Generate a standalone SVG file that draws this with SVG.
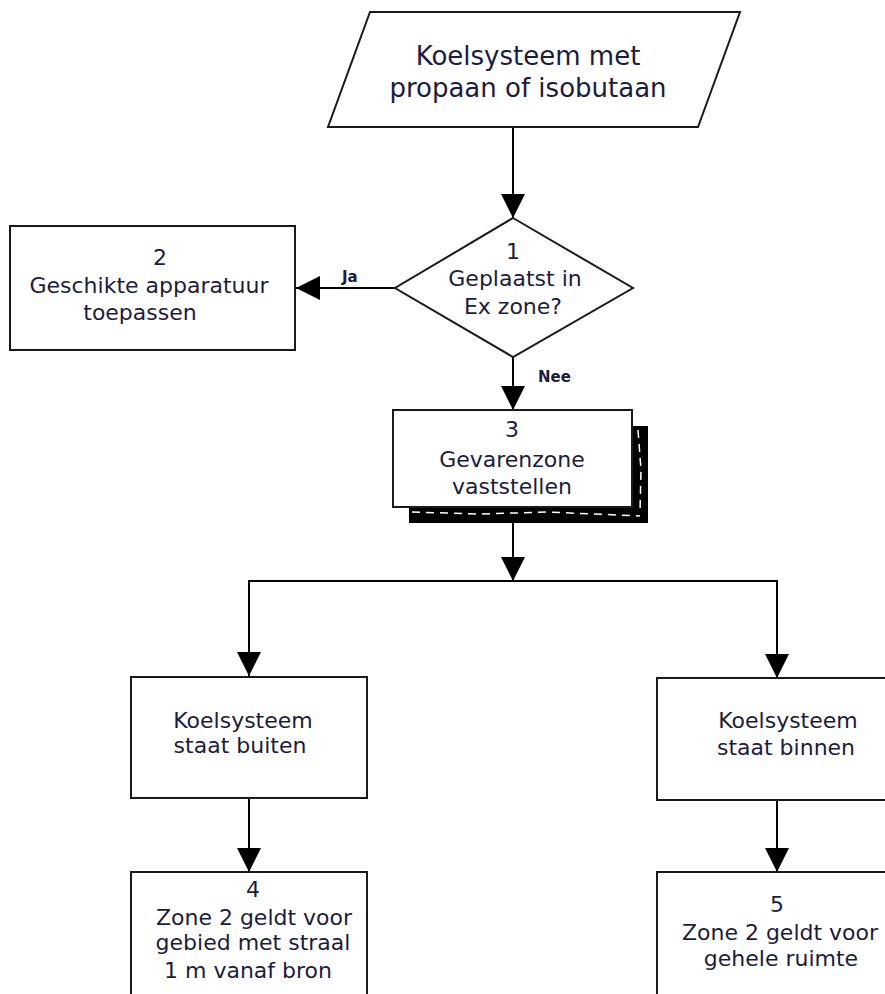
<svg xmlns="http://www.w3.org/2000/svg" width="885" height="994" viewBox="0 0 885 994">
<style>
.shape{fill:#fff;stroke:#1a1a1a;stroke-width:2}
.t{font-family:"DejaVu Sans","Verdana",sans-serif;font-size:22px;fill:#1c1c3c;text-anchor:middle}
.big{font-size:26px}
.lbl{font-family:"DejaVu Sans","Verdana",sans-serif;font-size:15px;font-weight:bold;fill:#1c1c3c}
.ln{fill:none;stroke:#000;stroke-width:2}
</style>
<defs>
<marker id="ah" markerUnits="userSpaceOnUse" markerWidth="24" markerHeight="24" viewBox="0 0 22 22" refX="22" refY="11" orient="auto">
<path d="M0,0 L22,11 L0,22 Z" fill="#000"/>
</marker>
</defs>
<rect width="885" height="994" fill="#fff"/>
<g id="connectors">
<line class="ln" x1="513" y1="127" x2="513" y2="218" marker-end="url(#ah)"/>
<line class="ln" x1="395" y1="288" x2="296" y2="288" marker-end="url(#ah)"/>
<line class="ln" x1="513" y1="357" x2="513" y2="410" marker-end="url(#ah)"/>
<line class="ln" x1="513" y1="507" x2="513" y2="581" marker-end="url(#ah)"/>
<polyline class="ln" points="249,676 249,581 777,581 777,678" marker-start="none"/>
<line class="ln" x1="249" y1="640" x2="249" y2="676" marker-end="url(#ah)"/>
<line class="ln" x1="777" y1="640" x2="777" y2="678" marker-end="url(#ah)"/>
<line class="ln" x1="249" y1="798" x2="249" y2="872" marker-end="url(#ah)"/>
<line class="ln" x1="777" y1="800" x2="777" y2="872" marker-end="url(#ah)"/>
<text class="lbl" x="342" y="282">Ja</text>
<text class="lbl" x="538" y="382">Nee</text>
</g>
<g id="start">
<polygon class="shape" points="370,12 740,12 698,127 328,127"/>
<text class="t big" x="528" y="65">Koelsysteem met</text>
<text class="t big" x="528" y="97">propaan of isobutaan</text>
</g>
<g id="node1">
<polygon class="shape" points="513,218 633,288 513,357 395,288"/>
<text class="t" x="513" y="259">1</text>
<text class="t" x="515" y="286">Geplaatst in</text>
<text class="t" x="513" y="314">Ex zone?</text>
</g>
<g id="node2">
<rect class="shape" x="10" y="226" width="285" height="124"/>
<text class="t" x="160" y="265">2</text>
<text class="t" x="149" y="293">Geschikte apparatuur</text>
<text class="t" x="140" y="320">toepassen</text>
</g>
<g id="node3">
<rect x="409" y="426" width="239" height="97" fill="#000"/>
<polyline points="412,512 480,514 548,512 640,516" fill="none" stroke="#fff" stroke-width="1.5" stroke-dasharray="8,6"/>
<polyline points="638,430 641,470 640,512" fill="none" stroke="#fff" stroke-width="1.5" stroke-dasharray="8,6"/>
<rect class="shape" x="393" y="410" width="239" height="97"/>
<text class="t" x="512" y="437">3</text>
<text class="t" x="512" y="467">Gevarenzone</text>
<text class="t" x="512" y="494">vaststellen</text>
</g>
<g id="outside">
<rect class="shape" x="131" y="677" width="236" height="121"/>
<text class="t" x="243" y="728">Koelsysteem</text>
<text class="t" x="240" y="753">staat buiten</text>
</g>
<g id="inside">
<rect class="shape" x="657" y="678" width="236" height="122"/>
<text class="t" x="788" y="728">Koelsysteem</text>
<text class="t" x="786" y="755">staat binnen</text>
</g>
<g id="node4">
<rect class="shape" x="131" y="872" width="236" height="130"/>
<text class="t" x="253" y="897">4</text>
<text class="t" x="254" y="925">Zone 2 geldt voor</text>
<text class="t" x="253" y="950">gebied met straal</text>
<text class="t" x="248" y="978">1 m vanaf bron</text>
</g>
<g id="node5">
<rect class="shape" x="657" y="872" width="236" height="130"/>
<text class="t" x="777" y="912">5</text>
<text class="t" x="780" y="940">Zone 2 geldt voor</text>
<text class="t" x="781" y="966">gehele ruimte</text>
</g>
</svg>
